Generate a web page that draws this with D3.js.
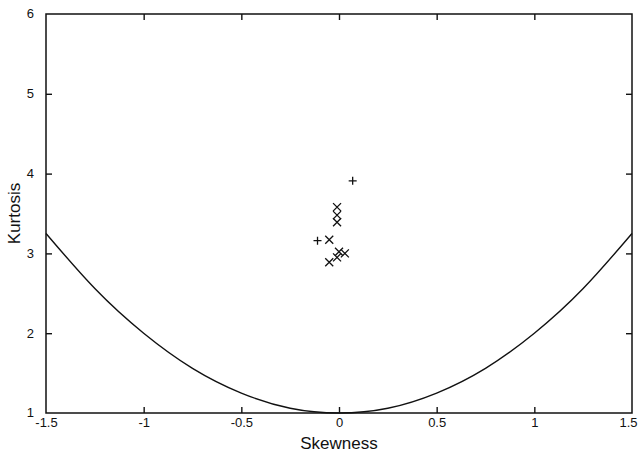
<!DOCTYPE html>
<html>
<head>
<meta charset="utf-8">
<script src="https://cdn.jsdelivr.net/npm/d3@7"></script>
<style>
  body { margin: 0; background: #fff; }
  text { font-family: "Liberation Sans", Arial, sans-serif; fill: #111; }
</style>
</head>
<body>
<div class="canvas"></div>
<script>
// data
const curveSkew = [-1.5, -1.25, -1, -0.75, -0.5, -0.25, 0, 0.25, 0.5, 0.75, 1, 1.25, 1.5];
const curveKurt = [3.25, 2.56, 2.0, 1.56, 1.25, 1.06, 1.0, 1.06, 1.25, 1.56, 2.0, 2.56, 3.25];

const plusSkew = [0.07, -0.11];
const plusKurt = [3.91, 3.16];

const crossSkew = [-0.01, -0.01, -0.01, -0.05, -0.05, -0.01, 0.0, 0.03];
const crossKurt = [3.58, 3.48, 3.39, 3.17, 2.89, 2.95, 3.02, 3.0];

const xTicks = [-1.5, -1, -0.5, 0, 0.5, 1, 1.5];
const yTicks = [1, 2, 3, 4, 5, 6];

const svg = d3.select('.canvas')
  .append('svg')
  .attr('width', 638)
  .attr('height', 459);

const margin = {top: 14, right: 6, bottom: 46, left: 46};
const graphWidth = 638 - margin.left - margin.right;
const graphHeight = 459 - margin.top - margin.bottom;

const graph = svg.append('g')
  .attr('transform', `translate(${margin.left},${margin.top})`);

const x = d3.scaleLinear().domain([-1.5, 1.5]).range([0, graphWidth]);
const y = d3.scaleLinear().domain([1, 6]).range([graphHeight, 0]);

// frame
graph.append('rect')
  .attr('width', graphWidth)
  .attr('height', graphHeight)
  .attr('fill', 'none')
  .attr('stroke', '#111')
  .attr('stroke-width', 1.5);

// inward ticks on all four sides
const tickLen = 6;
const styleAxis = g => {
  g.select('.domain').remove();
  g.selectAll('.tick line').attr('stroke', '#111').attr('stroke-width', 1.4);
  g.selectAll('.tick text').attr('font-size', '13px').attr('fill', '#111');
};

const xAxisGroup = graph.append('g')
  .attr('transform', `translate(0, ${graphHeight})`)
  .call(d3.axisBottom(x).tickValues(xTicks).tickSizeInner(-tickLen).tickSizeOuter(0)
    .tickPadding(5).tickFormat(d => d))
  .call(styleAxis);
xAxisGroup.selectAll('.tick')
  .filter(d => d === -1.5 || d === 1.5)
  .select('line').remove();
xAxisGroup.selectAll('.tick')
  .filter(d => d === 1.5)
  .select('text')
  .attr('text-anchor', 'end')
  .attr('dx', '5');

graph.append('g')
  .call(d3.axisTop(x).tickValues(xTicks.slice(1, -1)).tickSizeInner(-tickLen).tickSizeOuter(0)
    .tickFormat(''))
  .call(styleAxis);

const yAxisGroup = graph.append('g')
  .call(d3.axisLeft(y).tickValues(yTicks).tickSizeInner(-tickLen).tickSizeOuter(0)
    .tickPadding(12).tickFormat(d => d))
  .call(styleAxis);
yAxisGroup.selectAll('.tick')
  .filter(d => d === 1 || d === 6)
  .select('line').remove();
yAxisGroup.selectAll('.tick text').attr('dy', '0.3em');

graph.append('g')
  .attr('transform', `translate(${graphWidth},0)`)
  .call(d3.axisRight(y).tickValues(yTicks.slice(1, -1)).tickSizeInner(-tickLen).tickSizeOuter(0)
    .tickFormat(''))
  .call(styleAxis);

// bound curve
const curvePts = curveSkew.map((s, i) => [s, curveKurt[i]]);
graph.append('path')
  .datum(curvePts)
  .attr('fill', 'none')
  .attr('stroke', '#111')
  .attr('stroke-width', 1.4)
  .attr('d', d3.line().x(d => x(d[0])).y(d => y(d[1])).curve(d3.curveNatural));

// markers
const r = 4;
const plusPts = plusSkew.map((s, i) => [s, plusKurt[i]]);
graph.selectAll('.plus')
  .data(plusPts)
  .enter()
  .append('path')
    .attr('class', 'plus')
    .attr('fill', 'none')
    .attr('stroke', '#111')
    .attr('stroke-width', 1.3)
    .attr('d', d => {
      const cx = x(d[0]), cy = y(d[1]);
      return `M${cx - r},${cy}H${cx + r}M${cx},${cy - r}V${cy + r}`;
    });

const crossPts = crossSkew.map((s, i) => [s, crossKurt[i]]);
graph.selectAll('.cross')
  .data(crossPts)
  .enter()
  .append('path')
    .attr('class', 'cross')
    .attr('fill', 'none')
    .attr('stroke', '#111')
    .attr('stroke-width', 1.3)
    .attr('d', d => {
      const cx = x(d[0]), cy = y(d[1]);
      return `M${cx - r},${cy - r}L${cx + r},${cy + r}M${cx - r},${cy + r}L${cx + r},${cy - r}`;
    });

// axis titles
svg.append('text')
  .attr('x', margin.left + x(0))
  .attr('y', 449)
  .attr('text-anchor', 'middle')
  .attr('font-size', '17px')
  .text('Skewness');

svg.append('text')
  .attr('transform', `translate(20, ${margin.top + y(3.5)}) rotate(-90)`)
  .attr('text-anchor', 'middle')
  .attr('font-size', '17px')
  .text('Kurtosis');
</script>
</body>
</html>
